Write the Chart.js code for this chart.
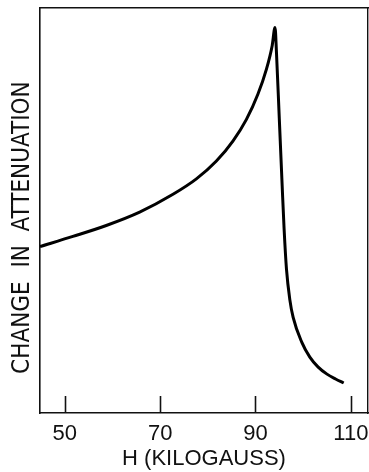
<!DOCTYPE html>
<html>
<head>
<meta charset="utf-8">
<script src="https://cdn.jsdelivr.net/npm/chart.js@4/dist/chart.umd.min.js"></script>
<style>
	body { margin:0; background:#fff; }
	#attChart { display:block; }
</style>
</head>
<body>
<canvas id="attChart" width="369" height="472"></canvas>
<script>
// field values (kilogauss)
var fieldH = [44.8, 51.7, 58.7, 65.7, 72.7, 77.6, 81.8, 85.3, 88.1, 90.5, 92.3, 93.5, 94.1, 94.4, 95.0, 95.6, 96.0, 96.5, 97.2, 97.9, 99.7, 101.4, 103.1, 105.0, 106.8, 108.5];
// change in attenuation, arbitrary units (0 = bottom of frame, 100 = top)
var attenuation = [41.1, 43.6, 46.3, 49.6, 54.0, 57.8, 62.2, 67.2, 72.5, 78.7, 84.9, 90.7, 95.2, 89.0, 72.5, 56.0, 45.5, 35.5, 28.0, 23.6, 17.5, 13.8, 11.4, 9.6, 8.4, 7.4];
var tickLabels = [50, 70, 90, 110];

function buildPoints(xs, ys){
	var pts = new Array();
	for (var i = 0; i < xs.length; i++) {
		pts.push({x: xs[i], y: ys[i]});
	}
	return pts;
}

// inward tick marks on the bottom axis
var inwardTicks = {
	id: 'inwardTicks',
	afterDatasetsDraw: function(chart){
		var ctx = chart.ctx;
		var xs = chart.scales.x;
		var bottom = chart.chartArea.bottom;
		ctx.save();
		ctx.strokeStyle = '#111';
		ctx.lineWidth = 1.6;
		tickLabels.forEach(function(v){
			var px = Math.round(xs.getPixelForValue(v)) + 0.5;
			ctx.beginPath();
			ctx.moveTo(px, bottom);
			ctx.lineTo(px, bottom - 17);
			ctx.stroke();
		});
		ctx.restore();
	}
};

var font = "'Liberation Sans', Arial, sans-serif";
var narrow = "'Liberation Sans Narrow', 'DejaVu Sans Condensed', sans-serif";
var ctx = document.getElementById('attChart').getContext('2d');
var attChart = new Chart(ctx, {
	type: 'line',
	data: {
		datasets: [{
			data: buildPoints(fieldH, attenuation),
			borderColor: '#000',
			borderWidth: 3,
			pointRadius: 0,
			cubicInterpolationMode: 'monotone',
			fill: false
		}]
	},
	options: {
		responsive: false,
		animation: false,
		layout: { padding: { top: 8, right: 1, left: 0, bottom: 0 } },
		plugins: {
			legend: { display: false },
			tooltip: { enabled: false }
		},
		scales: {
			x: {
				type: 'linear',
				min: 44.8,
				max: 113.6,
				afterBuildTicks: function(scale){
					scale.ticks = tickLabels.map(function(v){ return {value: v}; });
				},
				grid: { display: false, drawTicks: false },
				border: { display: true, color: '#111', width: 1.6 },
				ticks: {
					color: '#111',
					font: { family: font, size: 22 },
					padding: 8,
					maxRotation: 0
				},
				title: {
					display: true,
					text: 'H (KILOGAUSS)',
					color: '#111',
					font: { family: font, size: 22 },
					padding: { top: 2, bottom: 0 }
				},
				afterFit: function(scale){
					scale.height = 59;
					scale.paddingLeft = 0;
					scale.paddingRight = 0;
				}
			},
			xTop: {
				type: 'linear',
				position: 'top',
				min: 44.8,
				max: 113.6,
				grid: { display: false, drawTicks: false },
				border: { display: true, color: '#111', width: 1.6 },
				ticks: { display: false },
				afterFit: function(scale){ scale.height = 0; }
			},
			y: {
				min: 0,
				max: 100,
				grid: { display: false, drawTicks: false },
				border: { display: true, color: '#111', width: 1.6 },
				ticks: { display: false },
				title: {
					display: true,
					text: 'CHANGE  IN  ATTENUATION     ',
					color: '#111',
					font: { family: narrow, size: 24 },
					padding: { top: 8, bottom: 0 }
				},
				afterFit: function(scale){ scale.width = 40; }
			},
			yRight: {
				position: 'right',
				min: 0,
				max: 100,
				grid: { display: false, drawTicks: false },
				border: { display: true, color: '#111', width: 1.4 },
				ticks: { display: false },
				afterFit: function(scale){ scale.width = 0; }
			}
		}
	},
	plugins: [inwardTicks]
});
</script>
</body>
</html>
